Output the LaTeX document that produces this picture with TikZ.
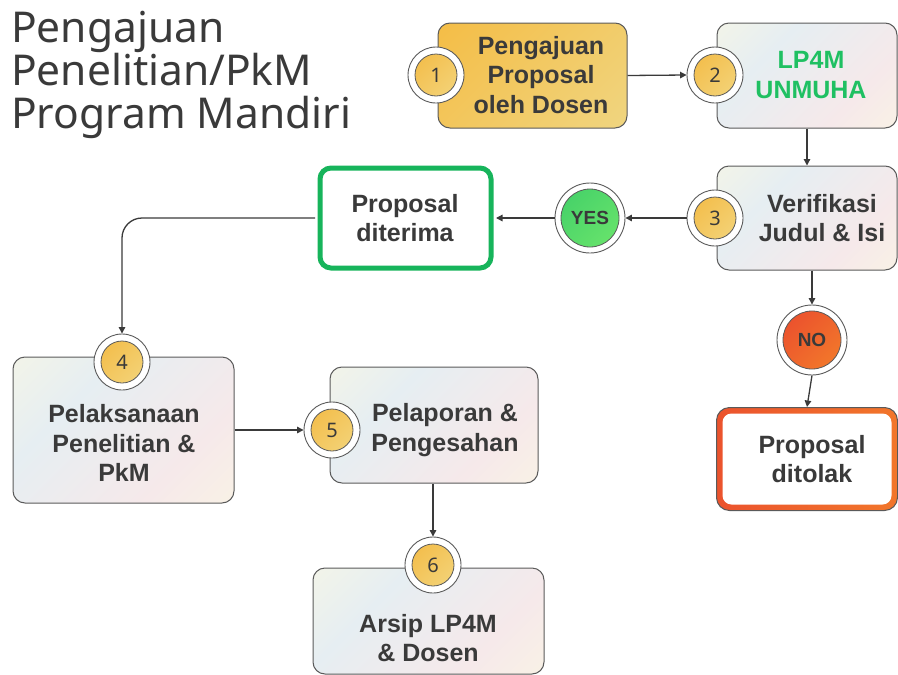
\documentclass[tikz,border=0pt]{standalone}
\usepackage{fontspec}
\setmainfont{Noto Sans}
\newfontfamily\boxfont{Liberation Sans}
\usetikzlibrary{arrows.meta}
\definecolor{ink}{HTML}{3A3A3A}
\definecolor{bord}{HTML}{5A5A5A}
\definecolor{pA}{HTML}{FBF8E2}
\definecolor{pB}{HTML}{E6EEF2}
\definecolor{pC}{HTML}{F6E9EA}
\definecolor{gA}{HTML}{F5B83A}
\definecolor{gB}{HTML}{EFDA8C}
\definecolor{cA}{HTML}{F4B63C}
\definecolor{cB}{HTML}{F2DA86}
\definecolor{yA}{HTML}{3ACB68}
\definecolor{yB}{HTML}{74EA6C}
\definecolor{nA}{HTML}{E8412E}
\definecolor{nB}{HTML}{F5882A}
\definecolor{okgreen}{HTML}{17B45B}
\definecolor{txtgreen}{HTML}{1FC062}
\pgfdeclarehorizontalshading{pastel}{100bp}{color(0bp)=(pA); color(35bp)=(pB); color(68bp)=(pC); color(100bp)=(pA)}
\pgfdeclarehorizontalshading{gold}{100bp}{color(0bp)=(gA); color(100bp)=(gB)}
\pgfdeclarehorizontalshading{coin}{100bp}{color(0bp)=(cA); color(100bp)=(cB)}
\pgfdeclarehorizontalshading{yesfill}{100bp}{color(0bp)=(yA); color(100bp)=(yB)}
\pgfdeclarehorizontalshading{nofill}{100bp}{color(0bp)=(nA); color(100bp)=(nB)}
\begin{document}
\begin{tikzpicture}[x=1pt,y=-1pt,
  stepbox/.style={draw=bord, line width=1pt, rounded corners=12pt, shading=pastel, shading angle=-45, inner sep=0pt},
  goldbox/.style={draw=bord, line width=1pt, rounded corners=12pt, shading=gold, shading angle=-45, inner sep=0pt},
  okbox/.style={draw=okgreen, line width=5pt, rounded corners=11pt, fill=white, inner sep=0pt},
  ring/.style={circle, draw=bord, line width=0.9pt, fill=white, minimum size=56pt, inner sep=0pt},
  coinst/.style={circle, draw=bord, line width=0.8pt, shading=coin, shading angle=-45, minimum size=42pt, inner sep=0pt, font=\fontsize{20}{20}\selectfont, text=ink},
  btext/.style={align=center, font=\boxfont\bfseries\fontsize{25}{29.5}\selectfont, text=ink, inner sep=0pt},
  ttext/.style={anchor=base west, inner sep=0pt, text=ink, font=\fontsize{42.5}{43}\selectfont},
  arr/.style={draw=ink, line width=1.3pt, -{Triangle[length=6.5pt,width=6.5pt]}}
]
\useasboundingbox (0,0) rectangle (898,675);
% title
\node[ttext] (ti1) at (11,42) {Pengajuan};
\node[ttext] (ti2) at (11,85) {Penelitian/PkM};
\node[ttext] (ti3) at (11,128) {Program Mandiri};

% boxes
\node[goldbox, minimum width=189pt, minimum height=105pt] (b1) at (532.5,75.5) {};
\node[stepbox, minimum width=180pt, minimum height=105pt] (b2) at (807,75.5) {};
\node[stepbox, minimum width=180pt, minimum height=104pt] (b3) at (807,218) {};
\node[okbox, minimum width=171pt, minimum height=100pt] (ok) at (405.5,218) {};
\node[draw=bord, line width=1pt, rounded corners=13pt, shading=nofill, shading angle=0, minimum width=181pt, minimum height=103pt, inner sep=0pt] (rej) at (807,459) {};
\node[fill=white, rounded corners=9pt, minimum width=169pt, minimum height=91pt, inner sep=0pt] (rejin) at (807,459) {};
\node[stepbox, minimum width=221pt, minimum height=146pt] (b4) at (123.5,430) {};
\node[stepbox, minimum width=208pt, minimum height=116pt] (b5) at (434,425) {};
\node[stepbox, minimum width=231pt, minimum height=106pt] (b6) at (428.5,621) {};

% texts
\node[btext] (t1) at (541,75) {Pengajuan\\Proposal\\oleh Dosen};
\node[btext, text=txtgreen] (t2) at (811,75) {LP4M\\UNMUHA};
\node[btext] (t3) at (822,218) {Verifikasi\\Judul \& Isi};
\node[btext] (tok) at (405,218) {Proposal\\diterima};
\node[btext] (trej) at (812,459) {Proposal\\ditolak};
\node[btext] (t4) at (124,443) {Pelaksanaan\\Penelitian \&\\PkM};
\node[btext] (t5) at (445,430) {Pelaporan \&\\Pengesahan};
\node[btext] (t6) at (428,638) {Arsip LP4M\\\& Dosen};

% decision circles
\node[ring, minimum size=70pt] (yes) at (590,218) {};
\node[circle, draw=bord, line width=0.8pt, shading=yesfill, shading angle=-45, minimum size=58pt, inner sep=0pt, text=ink, font=\boxfont\bfseries\fontsize{19}{19}\selectfont] (yesin) at (590,218) {YES};
\node[ring, minimum size=70pt] (no) at (812,340) {};
\node[circle, draw=bord, line width=0.8pt, shading=nofill, shading angle=-45, minimum size=58pt, inner sep=0pt, text=ink, font=\boxfont\bfseries\fontsize{19}{19}\selectfont] (noin) at (812,340) {NO};

% number coins
\foreach \n/\p in {1/{(436,75)},2/{(715,75)},3/{(715,218)},4/{(122,362)},5/{(332,430)},6/{(433,565)}}{
  \node[ring] (r\n) at \p {};
  \node[coinst] (c\n) at \p {\n};
}

% connectors
\path[arr] (b1.east) -- (r2.west);
\path[arr] (b2.south) -- (b3.north);
\path[arr] (r3.west) -- (yes.east);
\path[arr] (yes.west) -- ([xshift=2.5pt]ok.east);
\path[arr] (b3.south -| no.north) -- (no.north);
\path[arr] (no.south) -- (rej.north);
\path[arr, rounded corners=20pt] ([xshift=-2.5pt]ok.west) -| (r4.north);
\path[arr] (b4.east |- r5.west) -- (r5.west);
\path[arr] (b5.south -| r6.north) -- (r6.north);
\end{tikzpicture}
\end{document}
